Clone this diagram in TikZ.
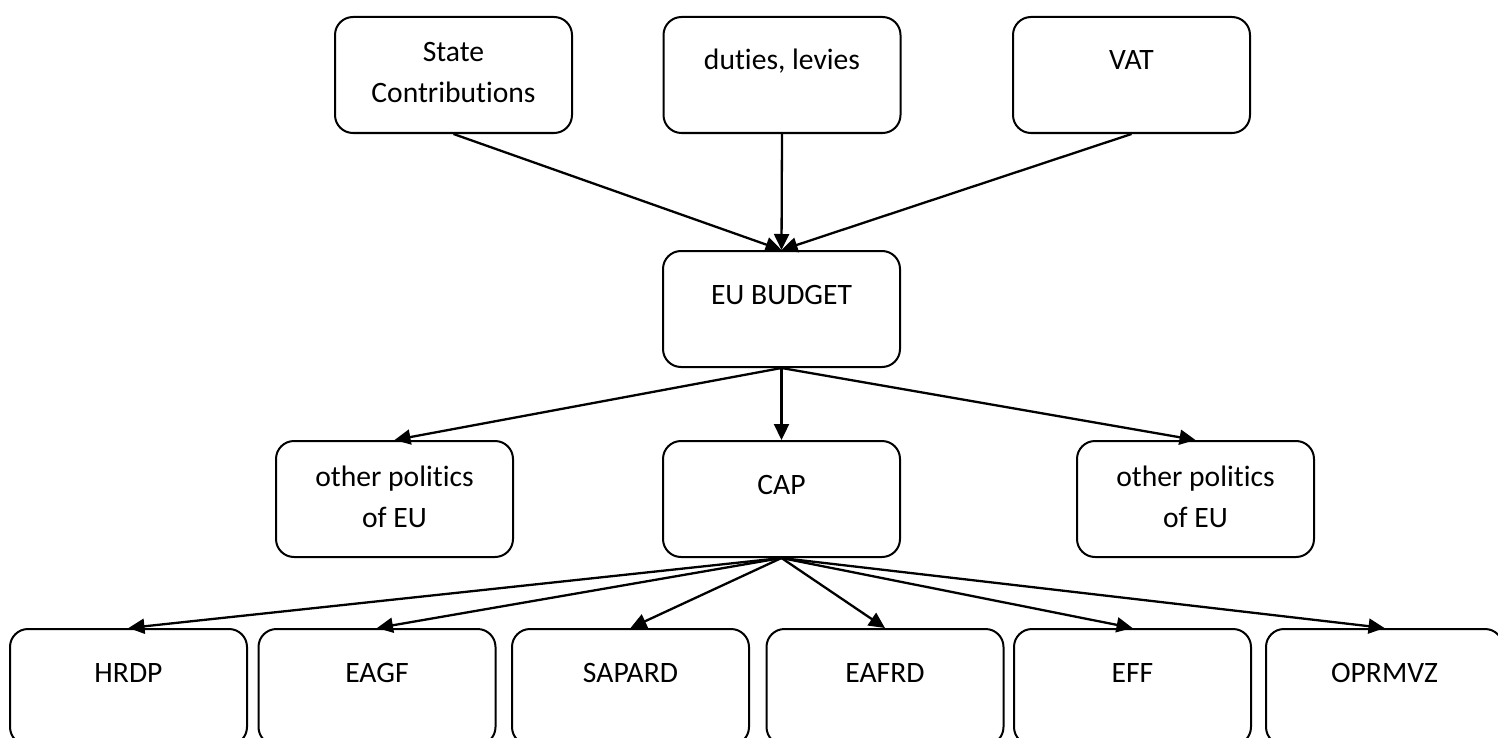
\documentclass[tikz,border=0pt]{standalone}
\usepackage{fontspec}
\setmainfont[Ligatures=NoCommon]{Carlito}
\usetikzlibrary{arrows.meta}
\newcommand\twolines[1]{\parbox[t]{112pt}{\centering #1}}
\begin{document}
\begin{tikzpicture}[x=0.5pt,y=-0.5pt,
  box/.style={draw, line width=1pt, rounded corners=9pt, minimum width=118.5pt,
    inner sep=0pt, text height=26.5pt, text depth=31.5pt,
    font=\fontsize{14.8pt}{20.5pt}\selectfont},
  box2/.style={box, text height=22.5pt, text depth=35.5pt},
  arr/.style={-{Triangle[length=8pt,width=7.5pt]}, line width=1.15pt}]
\useasboundingbox (0,0) rectangle (1498,738);
\fill[white] (0,0) rectangle (1498,738);
\clip (0,0) rectangle (1498,738);
% top row
\node[box2] (sc)  at (453.5,75) {\twolines{State\\Contributions}};
\node[box]  (dl)  at (782,75)   {duties, levies};
\node[box]  (vat) at (1131.5,75) {VAT};
% budget
\node[box]  (eu)  at (781.5,309) {EU BUDGET};
% middle row
\node[box2] (opl) at (394.5,499) {\twolines{other politics\\of EU}};
\node[box]  (cap) at (781.5,499) {CAP};
\node[box2] (opr) at (1195.5,499) {\twolines{other politics\\of EU}};
% bottom row
\node[box] (hrdp)   at (128.5,687)  {HRDP};
\node[box] (eagf)   at (377,687)    {EAGF};
\node[box] (sapard) at (630.5,687)  {SAPARD};
\node[box] (eafrd)  at (885,687)    {EAFRD};
\node[box] (eff)    at (1132.5,687) {EFF};
\node[box] (oprmvz) at (1384.5,687) {OPRMVZ};
% connectors
\draw[arr] (sc.south)  -- (eu.north);
\draw[arr] (dl.south)  -- (eu.north);
\draw[arr] (vat.south) -- (eu.north);
\draw[arr] (eu.south) -- (opl.north);
\draw[arr] (eu.south) -- (cap.north);
\draw[arr] (eu.south) -- (opr.north);
\draw[arr] (cap.south) -- (hrdp.north);
\draw[arr] (cap.south) -- (eagf.north);
\draw[arr] (cap.south) -- (sapard.north);
\draw[arr] (cap.south) -- (eafrd.north);
\draw[arr] (cap.south) -- (eff.north);
\draw[arr] (cap.south) -- (oprmvz.north);
\end{tikzpicture}
\end{document}
